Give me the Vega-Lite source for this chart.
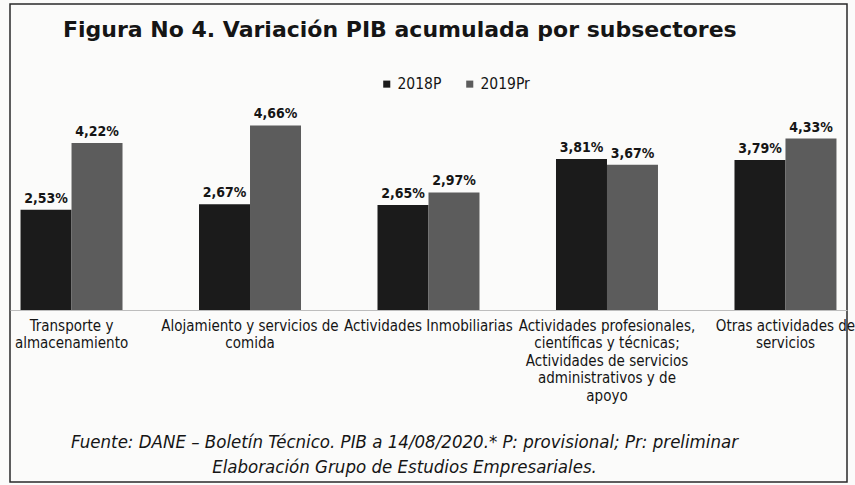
{
  "$schema": "https://vega.github.io/schema/vega-lite/v6.json",
  "width": 837,
  "height": 478,
  "autosize": {"type": "none"},
  "padding": {"left": 10, "top": 4, "right": 8, "bottom": 3},
  "background": "#fbfbfa",
  "title": {
    "text": "Figura No 4.  Variación PIB acumulada por subsectores",
    "anchor": "start",
    "dx": 53,
    "offset": -38,
    "font": "DejaVu Sans",
    "fontSize": 22,
    "fontWeight": "bold",
    "color": "#151515"
  },
  "config": {
    "view": {"stroke": "#2a2a2a", "strokeWidth": 1.5},
    "text": {"font": "DejaVu Sans Condensed"}
  },
  "data": {
    "values": [
      {"cat": "Transporte y\nalmacenamiento", "year": "2018P", "value": 2.53, "label": "2,53%"},
      {"cat": "Transporte y\nalmacenamiento", "year": "2019Pr", "value": 4.22, "label": "4,22%"},
      {"cat": "Alojamiento y servicios de\ncomida", "year": "2018P", "value": 2.67, "label": "2,67%"},
      {"cat": "Alojamiento y servicios de\ncomida", "year": "2019Pr", "value": 4.66, "label": "4,66%"},
      {"cat": "Actividades Inmobiliarias", "year": "2018P", "value": 2.65, "label": "2,65%"},
      {"cat": "Actividades Inmobiliarias", "year": "2019Pr", "value": 2.97, "label": "2,97%"},
      {"cat": "Actividades profesionales,\ncientíficas y técnicas;\nActividades de servicios\nadministrativos y de\napoyo", "year": "2018P", "value": 3.81, "label": "3,81%"},
      {"cat": "Actividades profesionales,\ncientíficas y técnicas;\nActividades de servicios\nadministrativos y de\napoyo", "year": "2019Pr", "value": 3.67, "label": "3,67%"},
      {"cat": "Otras actividades de\nservicios", "year": "2018P", "value": 3.79, "label": "3,79%"},
      {"cat": "Otras actividades de\nservicios", "year": "2019Pr", "value": 4.33, "label": "4,33%"}
    ]
  },
  "encoding": {
    "x": {
      "field": "cat",
      "type": "nominal",
      "sort": null,
      "scale": {"paddingInner": 0.4286, "paddingOuter": 0.059},
      "axis": {
        "offset": -172,
        "labelAngle": 0,
        "labelExpr": "split(datum.label, '\\n')",
        "labelFont": "DejaVu Sans Condensed",
        "labelFontSize": 15,
        "labelLineHeight": 17.5,
        "labelColor": "#151515",
        "labelPadding": 8,
        "labelBaseline": "top",
        "ticks": false,
        "domainColor": "#bdbdbd",
        "domainWidth": 1,
        "title": ["Fuente: DANE – Boletín Técnico. PIB a 14/08/2020.* P: provisional; Pr: preliminar", "Elaboración Grupo de Estudios Empresariales."],
        "titleFont": "DejaVu Sans Condensed",
        "titleFontSize": 18.5,
        "titleFontStyle": "italic",
        "titleFontWeight": "normal",
        "titleColor": "#151515",
        "titleLineHeight": 25,
        "titleAlign": "center",
        "titleBaseline": "alphabetic",
        "titleX": 394,
        "titleY": 137
      }
    },
    "xOffset": {"field": "year", "type": "nominal"},
    "y": {
      "field": "value",
      "type": "quantitative",
      "scale": {"domain": [-4.343, 7.727], "nice": false, "zero": false},
      "axis": null
    }
  },
  "layer": [
    {
      "mark": {"type": "bar"},
      "encoding": {
        "y2": {"datum": 0},
        "color": {
          "field": "year",
          "type": "nominal",
          "scale": {"domain": ["2018P", "2019Pr"], "range": ["#1b1b1b", "#5c5c5c"]},
          "legend": {
            "title": null,
            "orient": "none",
            "legendX": 369,
            "legendY": 72,
            "direction": "horizontal",
            "symbolType": "square",
            "symbolSize": 50,
            "symbolStrokeWidth": 0,
            "labelFont": "DejaVu Sans Condensed",
            "labelFontSize": 15.5,
            "labelColor": "#151515",
            "labelOffset": 3,
            "columnPadding": 20
          }
        }
      }
    },
    {
      "mark": {"type": "text", "baseline": "alphabetic", "dy": -7, "fontSize": 14, "fontWeight": "bold", "color": "#151515"},
      "encoding": {"text": {"field": "label"}}
    }
  ]
}
